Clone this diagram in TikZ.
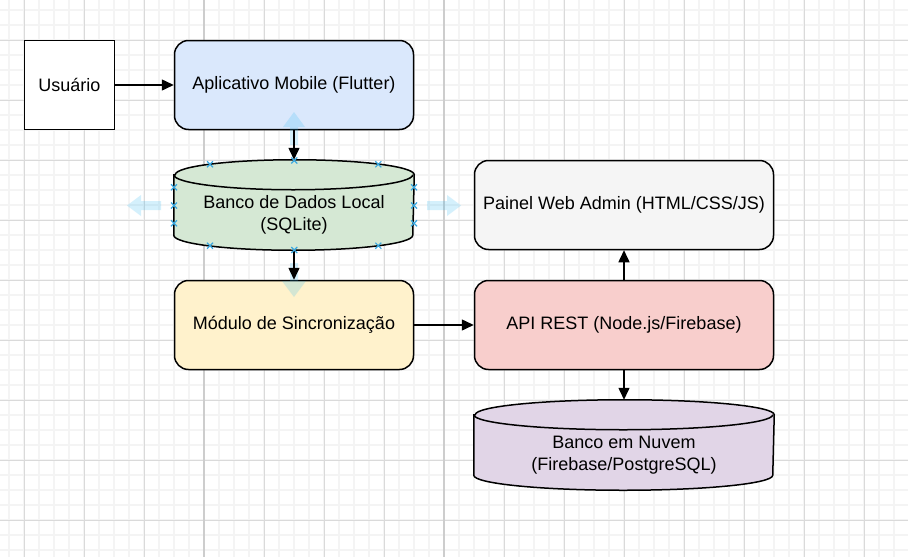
\documentclass[tikz,border=0pt]{standalone}
\usepackage{fontspec}
\setmainfont{Liberation Sans}
\usetikzlibrary{arrows.meta}
\definecolor{gridmajor}{HTML}{DADADA}
\definecolor{gridminor}{HTML}{F4F4F4}
\definecolor{griddark}{HTML}{CDCDCD}
\definecolor{appblue}{HTML}{DAE8FC}
\definecolor{dbgreen}{HTML}{D5E8D4}
\definecolor{syncyellow}{HTML}{FFF2CC}
\definecolor{webgray}{HTML}{F5F5F5}
\definecolor{apired}{HTML}{F8CECC}
\definecolor{cloudpurple}{HTML}{E1D5E7}
\definecolor{hoverblue}{HTML}{29B6F2}
\definecolor{markblue}{HTML}{3AA8E0}
\begin{document}
\begin{tikzpicture}[x=1pt,y=-1pt,
  txt/.style={font=\fontsize{18}{21.6}\selectfont, align=center, text=black},
  box/.style={txt, draw=black, line width=1.5pt, minimum width=239pt, minimum height=89pt, inner sep=0pt},
  rbox/.style={box, rounded corners=14pt},
  wbox/.style={rbox, minimum width=299pt},
  cylbox/.style={minimum width=#1, minimum height=89pt, inner sep=0pt, outer sep=0.75pt},
  conn/.style={line width=1.5pt, draw=black, -{Triangle[length=12pt,width=11pt]}},
  hover/.style={fill=hoverblue, fill opacity=0.2, draw=none},
  xmark/.style={draw=markblue, line width=1.2pt},
  minorline/.style={draw=gridminor, line width=1.5pt},
  majorline/.style={draw=gridmajor, line width=1pt},
  darkline/.style={draw=griddark, line width=1.8pt}
]
% canvas
\fill[white] (0,0) rectangle (908,557);
\useasboundingbox (0,0) rectangle (908,557);
\foreach \x in {9,24,...,909} \draw[minorline] (\x,0) -- (\x,557);
\foreach \y in {10,25,...,556} \draw[minorline] (0,\y) -- (908,\y);
\foreach \x in {24,84,...,888} \draw[majorline] (\x,0) -- (\x,557);
\foreach \y in {40,100,...,556} \draw[majorline] (0,\y) -- (908,\y);
\draw[darkline] (204,0) -- (204,557);
\draw[darkline] (444,0) -- (444,557);

% boxes
\node[box, minimum width=90pt, fill=white] (usr) at (69.5,85) {Usuário};
\node[rbox, fill=appblue] (app) at (294,85) {Aplicativo Mobile (Flutter)};
\node[rbox, fill=syncyellow] (sync) at (294,325) {Módulo de Sincronização};
\node[wbox, fill=webgray] (web) at (624,205) {Painel Web Admin (HTML/CSS/JS)};
\node[wbox, fill=apired] (api) at (624,325) {API REST (Node.js/Firebase)};

% cylinders
\node[cylbox=239pt] (sqlite) at (294,205) {};
\filldraw[fill=dbgreen, draw=black, line width=1.5pt]
  ([yshift=-15pt]sqlite.north west) -- ([yshift=15pt]sqlite.south west)
  arc[start angle=180, end angle=360, x radius=119.5pt, y radius=15pt]
  -- ([yshift=-15pt]sqlite.north east)
  arc[start angle=0, end angle=180, x radius=119.5pt, y radius=15pt] -- cycle;
\draw[line width=1.5pt] ([yshift=-15pt]sqlite.north west)
  arc[start angle=180, end angle=360, x radius=119.5pt, y radius=15pt];
\node[txt] (sqlite-t) at ([yshift=-10pt]sqlite.center) {Banco de Dados Local\\(SQLite)};

\node[cylbox=299pt] (cloud) at (624,445) {};
\filldraw[fill=cloudpurple, draw=black, line width=1.5pt]
  ([yshift=-15pt]cloud.north west) -- ([yshift=15pt]cloud.south west)
  arc[start angle=180, end angle=360, x radius=149.5pt, y radius=15pt]
  -- ([yshift=-15pt]cloud.north east)
  arc[start angle=0, end angle=180, x radius=149.5pt, y radius=15pt] -- cycle;
\draw[line width=1.5pt] ([yshift=-15pt]cloud.north west)
  arc[start angle=180, end angle=360, x radius=149.5pt, y radius=15pt];
\node[txt] (cloud-t) at ([yshift=-10pt]cloud.center) {Banco em Nuvem\\(Firebase/PostgreSQL)};

% hover arrows (editor overlay)
\path[hover] (290,145) -- (290,127) -- (283,127) -- (294,112) -- (305,127) -- (298,127) -- (298,145) -- cycle;
\path[hover] (161,201) -- (141,201) -- (141,195) -- (127,205.5) -- (141,216) -- (141,210) -- (161,210) -- cycle;
\path[hover] (427,201) -- (447,201) -- (447,195) -- (461,205.5) -- (447,216) -- (447,210) -- (427,210) -- cycle;
\path[hover] (290,263) -- (290,281) -- (282,281) -- (294,297) -- (306,281) -- (298,281) -- (298,263) -- cycle;

% connectors
\draw[conn] (usr) -- (app);
\draw[conn] (app) -- (sqlite);
\draw[conn] (sqlite) -- (sync);
\draw[conn] (sync) -- (api);
\draw[conn] (api) -- (web);
\draw[conn] (api) -- (cloud);

% selection handles
\foreach \p in {(210,164.3),(294.3,160.5),(378.3,164.3),(174,187.3),(174,205.5),(174,223.3),(414,187.3),(414,205.5),(414,223.3),(210,245.7),(294.3,250),(378.3,245.7)}
  \draw[xmark] \p ++(-3,-3) -- ++(6,6) \p ++(-3,3) -- ++(6,-6);
\end{tikzpicture}
\end{document}
